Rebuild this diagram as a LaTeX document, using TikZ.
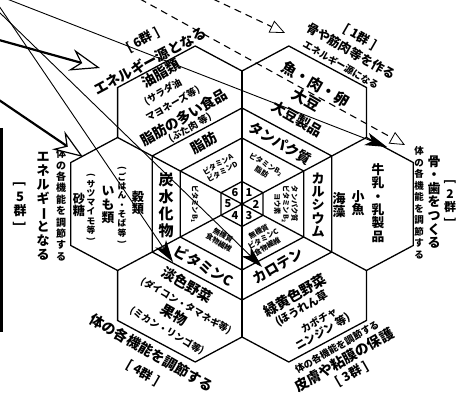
\documentclass[tikz,border=0pt]{standalone}
\usepackage{fontspec}
\setmainfont{Noto Sans CJK JP}
\usetikzlibrary{arrows.meta}
\newcommand{\vrot}[1]{\rotatebox[origin=c]{-90}{#1}}
\tikzset{
  hexline/.style={line width=1.3pt, line join=miter},
  big/.style={inner sep=0pt, font=\fontsize{14}{15}\selectfont\bfseries},
  med/.style={inner sep=0pt, font=\fontsize{12.5}{13.5}\selectfont\bfseries},
  sml/.style={inner sep=0pt, font=\fontsize{9.5}{10.5}\selectfont\bfseries},
  tny/.style={inner sep=0pt, align=center, font=\fontsize{7.2}{8.6}\selectfont\bfseries},
  num/.style={inner sep=0pt, font=\fontsize{11}{12}\selectfont\bfseries},
  vt/.style={inner sep=0pt, align=center},
  blk/.style={line width=0.9pt, -{Stealth[length=22pt,width=13pt,inset=6pt]}},
  opn/.style={line width=2.2pt, -{Stealth[length=30pt,width=22pt,inset=10pt,fill=white,line width=1.2pt]}},
  dsh/.style={line width=1.1pt, dash pattern=on 7pt off 5pt, -{Triangle[length=15pt,width=13pt,fill=white,line width=0.8pt]}}
}
\begin{document}
\begin{tikzpicture}[x=1pt,y=-1pt]
\useasboundingbox (0,0) rectangle (460,395);
\fill[white] (0,0) rectangle (460,395);
% centre hexagons
\coordinate (C) at (242,204);
\coordinate (N3) at (242,108);   \coordinate (NE3) at (331.8,156); \coordinate (SE3) at (331.8,252);
\coordinate (S3) at (242,300);   \coordinate (SW3) at (152.2,252); \coordinate (NW3) at (152.2,156);
\coordinate (N2) at (242,138);   \coordinate (NE2) at (303.7,171); \coordinate (SE2) at (303.7,237);
\coordinate (S2) at (242,270);   \coordinate (SW2) at (180.3,237); \coordinate (NW2) at (180.3,171);
\coordinate (N1) at (242,181.5); \coordinate (NE1) at (263,192.75); \coordinate (SE1) at (263,215.25);
\coordinate (S1) at (242,226.5); \coordinate (SW1) at (221,215.25); \coordinate (NW1) at (221,192.75);
% spoke ends
\coordinate (PN) at (242,71);      \coordinate (PNE) at (366.4,137.5); \coordinate (PSE) at (366.4,270.5);
\coordinate (PS) at (242,337);     \coordinate (PSW) at (117.6,270.5); \coordinate (PNW) at (117.6,137.5);
% outer corners
\coordinate (A6) at (117.6,87.5);  \coordinate (B6) at (195.2,46);
\coordinate (A1) at (288.8,46);    \coordinate (B1) at (366.4,87.5);
\coordinate (A2) at (413.2,162.5); \coordinate (B2) at (413.2,245.5);
\coordinate (A3) at (366.4,320.5); \coordinate (B3) at (288.8,362);
\coordinate (A4) at (195.2,362);   \coordinate (B4) at (117.6,320.5);
\coordinate (A5) at (70.8,245.5);  \coordinate (B5) at (70.8,162.5);

\draw[hexline] (PNW) -- (A6) -- (B6) -- (PN) -- (A1) -- (B1) -- (PNE) -- (A2) -- (B2) -- (PSE)
  -- (A3) -- (B3) -- (PS) -- (A4) -- (B4) -- (PSW) -- (A5) -- (B5) -- cycle;
\draw[hexline] (N3) -- (NE3) -- (SE3) -- (S3) -- (SW3) -- (NW3) -- cycle;
\draw[hexline] (N2) -- (NE2) -- (SE2) -- (S2) -- (SW2) -- (NW2) -- cycle;
\draw[hexline] (N1) -- (NE1) -- (SE1) -- (S1) -- (SW1) -- (NW1) -- cycle;
\draw[hexline] (PN) -- (PS);
\draw[hexline] (PNE) -- (PSW);
\draw[hexline] (PNW) -- (PSE);

% left bar
\coordinate (bar1) at (1.3,128); \coordinate (bar2) at (1.3,332);
\draw[line width=2.6pt] (bar1) -- (bar2);

% ---- texts: group 6
\node[med, rotate=28] (g6a) at (143,40) {[ 6群 ]};
\node[big, rotate=28] (g6b) at (150,61) {エネルギー源となる};
\node[big, rotate=30] (t6a) at (161,73) {油脂類};
\node[sml, rotate=30] (t6b) at (163,92) {(サラダ油};
\node[sml, rotate=30] (t6c) at (173,104) {マヨネーズ等)};
\node[big, rotate=30] (t6d) at (184,117) {脂肪の多い食品};
\node[sml, rotate=30] (t6e) at (190,128) {(ぶた肉\ 等)};
% group 1
\node[med, rotate=-30] (g1a) at (360,37) {[ 1群 ]};
\node[med, rotate=-30] (g1b) at (351,51) {骨や筋肉等を作る};
\node[sml, rotate=-30] (g1c) at (341,65) {エネルギー源になる};
\node[inner sep=0pt, font=\fontsize{15}{16}\selectfont\bfseries, rotate=-30] (t1a) at (316,84) {魚・肉・卵};
\node[inner sep=0pt, font=\fontsize{15}{16}\selectfont\bfseries, rotate=-30] (t1b) at (306,100) {大豆};
\node[big, rotate=-30] (t1c) at (297,119) {大豆製品};
% group 2
\node[vt, font=\fontsize{12.8}{13.3}\selectfont\bfseries] (t2a) at (378,203) {牛\\乳\\・\\乳\\製\\品};
\node[vt, font=\fontsize{13}{13.5}\selectfont\bfseries] (t2b) at (358,203) {小\\魚};
\node[vt, font=\fontsize{13}{13.5}\selectfont\bfseries] (t2c) at (339,205) {海\\藻};
\node[vt, font=\fontsize{9.5}{11.5}\selectfont\bfseries] (g2a) at (419,203) {体\\の\\各\\機\\能\\を\\調\\節\\す\\る};
\node[vt, font=\fontsize{13}{13.6}\selectfont\bfseries] (g2b) at (434,202) {骨\\・\\歯\\を\\つ\\く\\る};
\node[vt, font=\fontsize{12}{12.6}\selectfont\bfseries] (g2c) at (450,202) {\vrot{[}\\2\\群\\\vrot{]}};
% group 3
\node[big, rotate=30] (t3a) at (295,295) {緑黄色野菜};
\node[inner sep=0pt, font=\fontsize{11}{12}\selectfont\bfseries, rotate=30] (t3b) at (302,309) {(ほうれん草};
\node[inner sep=0pt, font=\fontsize{10}{11}\selectfont\bfseries, rotate=30] (t3c) at (319,320) {カボチャ};
\node[inner sep=0pt, font=\fontsize{11}{12}\selectfont\bfseries, rotate=30] (t3d) at (323,332) {ニンジン\ 等)};
\node[sml, rotate=30] (g3a) at (337,347) {体の各機能を調節する};
\node[big, rotate=30] (g3b) at (344,360) {皮膚や粘膜の保護};
\node[med, rotate=30] (g3c) at (352,374) {[ 3群 ]};
% group 4
\node[big, rotate=-30] (t4a) at (187,285) {淡色野菜};
\node[sml, rotate=-30] (t4b) at (186,306) {(ダイコン・タマネギ等)};
\node[big, rotate=-30] (t4c) at (174,315) {果物};
\node[sml, rotate=-30] (t4d) at (167,331) {(ミカン・リンゴ等)};
\node[big, rotate=-30] (g4a) at (152,353) {体の各機能を調節する};
\node[med, rotate=-30] (g4b) at (143,373) {[ 4群 ]};
% group 5
\node[vt, font=\fontsize{12.2}{12.7}\selectfont\bfseries] (t5a) at (138,203) {穀\\類};
\node[vt, font=\fontsize{8.8}{9.3}\selectfont\bfseries] (t5b) at (122,206) {\vrot{(}\\ご\\は\\ん\\・\\そ\\ば\\等\\\vrot{)}};
\node[vt, font=\fontsize{12.8}{13.3}\selectfont\bfseries] (t5c) at (108,205) {い\\も\\類};
\node[vt, font=\fontsize{8.7}{9.2}\selectfont\bfseries] (t5d) at (91,208) {\vrot{(}\\サ\\ツ\\マ\\イ\\モ\\等\\\vrot{)}};
\node[vt, font=\fontsize{12.2}{12.7}\selectfont\bfseries] (t5e) at (79,205) {砂\\糖};
\node[vt, font=\fontsize{10}{11.4}\selectfont\bfseries] (g5a) at (61,205) {体\\の\\各\\機\\能\\を\\調\\節\\す\\る};
\node[vt, font=\fontsize{13}{14}\selectfont\bfseries] (g5b) at (43,206) {エ\\ネ\\ル\\ギ\\\vrot{ー}\\と\\な\\る};
\node[vt, font=\fontsize{13}{13.5}\selectfont\bfseries] (g5c) at (20,205) {\vrot{[}\\5\\群\\\vrot{]}};
% centre outer ring
\node[big, rotate=30] (r6) at (204,143) {脂肪};
\node[big, rotate=-30] (r1) at (280,143) {タンパク質};
\node[vt, font=\fontsize{13}{13.4}\selectfont\bfseries] (r2) at (318,205) {カ\\ル\\シ\\ウ\\ム};
\node[big, rotate=30] (r3) at (278,266) {カロテン};
\node[big, rotate=-30] (r4) at (204,266) {ビタミンC};
\node[vt, font=\fontsize{15}{17}\selectfont\bfseries] (r5) at (166,205) {炭\\水\\化\\物};
% centre middle ring
\node[tny, rotate=30] (m6) at (220,168) {ビタミンA\\ビタミンD};
\node[tny, rotate=-30] (m1) at (264,168) {ビタミンB\textsubscript{2}\\脂肪};
\node[tny, rotate=-90] (m2) at (286,204) {タンパク質\\ビタミンB\textsubscript{2}\\ヨウ素};
\node[tny, rotate=30] (m3) at (263,239) {無機質\\ビタミンC\\食物繊維};
\node[tny, rotate=-30] (m4) at (221,239) {無機質\\食物繊維};
\node[tny, rotate=-90] (m5) at (195,204) {ビタミンB\textsubscript{1}};
% centre numbers
\node[num] (n1) at (249,192.75) {1};
\node[num] (n2) at (256,204) {2};
\node[num] (n3) at (249,215.25) {3};
\node[num] (n4) at (235,215.25) {4};
\node[num] (n5) at (228,204) {5};
\node[num] (n6) at (235,192.75) {6};

% ---- arrows
\coordinate (L1s) at (7,-1);    \coordinate (L1e) at (387,147);
\coordinate (Las) at (-1,6);    \coordinate (Lae) at (173,262);
\coordinate (Lbs) at (-1,12);   \coordinate (Lbe) at (262,267);
\coordinate (A4s) at (-1,40);   \coordinate (A4e) at (100,68);
\coordinate (A5s) at (-1,100);  \coordinate (A5e) at (83,157);
\coordinate (D1s) at (213,-1);  \coordinate (D1e) at (285,33);
\coordinate (D2s) at (140,-1);  \coordinate (D2e) at (405,145);
\draw[blk] (L1s) -- (L1e);
\draw[blk] (Las) -- (Lae);
\draw[blk] (Lbs) -- (Lbe);
\draw[opn] (A4s) -- (A4e);
\draw[opn] (A5s) -- (A5e);
\draw[dsh] (D1s) -- (D1e);
\draw[dsh] (D2s) -- (D2e);
\end{tikzpicture}
\end{document}
